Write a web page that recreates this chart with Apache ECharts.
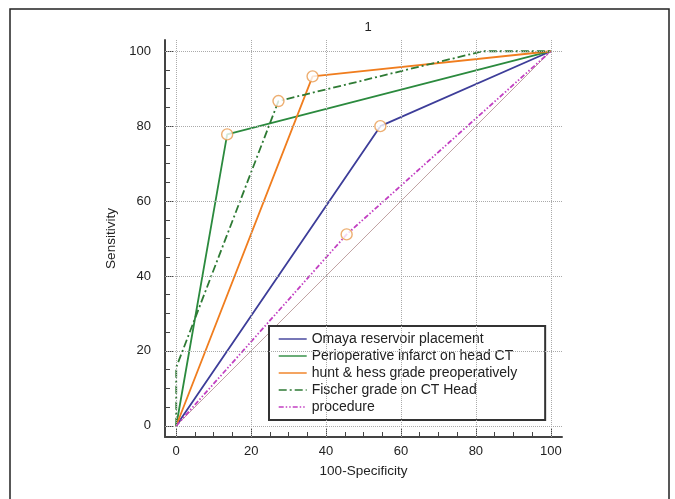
<!DOCTYPE html>
<html>
<head>
<meta charset="utf-8">
<script src="https://cdn.jsdelivr.net/npm/echarts@6/dist/echarts.min.js"></script>
<style>
  html, body { margin: 0; padding: 0; background: #fff; }
  #chart { width: 675px; height: 499px; }
</style>
</head>
<body>
<div id="chart"></div>
<script>
// ROC curves (x = 100-Specificity, y = Sensitivity)
const seriesNames = [
  'Omaya reservoir placement',
  'Perioperative infarct on head CT',
  'hunt & hess grade preoperatively',
  'Fischer grade on CT Head',
  'procedure'
]
const omayaX = [0, 54.5, 100]
const omayaY = [0, 80, 100]
const infarctX = [0, 13.6, 100]
const infarctY = [0, 77.8, 100]
const huntX = [0, 36.4, 100]
const huntY = [0, 93.3, 100]
const fischerX = [0, 0, 27.3, 81.8, 100]
const fischerY = [0, 15.6, 86.7, 100, 100]
const procX = [0, 45.5, 100]
const procY = [0, 51.1, 100]
// criterion point (index into each curve) shown with a circle
const markerIdx = [1, 1, 1, 2, 1]
// diagonal reference line
const diagX = [0, 100]
const diagY = [0, 100]

const majorTicks = [0, 20, 40, 60, 80, 100]
const minorTicks = [5, 10, 15, 25, 30, 35, 45, 50, 55, 65, 70, 75, 85, 90, 95]

const font = 'Liberation Sans, Arial, sans-serif'
const colors = ['#3d3d99', '#2b8a3e', '#f07d1e', '#2e7a34', '#c23fc2']
const dashes = ['solid', 'solid', 'solid', [8, 3, 2, 3], [5, 2, 1.5, 2, 1.5, 2]]

const curvesX = [omayaX, infarctX, huntX, fischerX, procX]
const curvesY = [omayaY, infarctY, huntY, fischerY, procY]

const zip = (xs, ys) => xs.map((x, i) => [x, ys[i]])

const chart = echarts.init(document.getElementById('chart'))

const axisBase = {
  type: 'value',
  min: -3,
  max: 103,
  splitLine: { show: false }
}

const series = []

// dotted grid lines
series.push({
  type: 'line',
  data: [],
  silent: true,
  markLine: {
    silent: true,
    symbol: 'none',
    label: { show: false },
    lineStyle: { color: '#aaa', type: [1, 1], width: 1 },
    data: majorTicks.map(v => ({ xAxis: v })).concat(majorTicks.map(v => ({ yAxis: v })))
  }
})

// diagonal
series.push({
  type: 'line',
  data: zip(diagX, diagY),
  symbol: 'none',
  silent: true,
  lineStyle: { color: '#b08c8c', width: 0.8 },
  z: 2
})

seriesNames.forEach((name, i) => {
  series.push({
    name: name,
    type: 'line',
    data: zip(curvesX[i], curvesY[i]),
    symbol: 'none',
    color: colors[i],
    lineStyle: { color: colors[i], width: 1.8, type: dashes[i] },
    z: 3
  })
})

// criterion markers
series.push({
  type: 'scatter',
  data: seriesNames.map((_, i) => [curvesX[i][markerIdx[i]], curvesY[i][markerIdx[i]]]),
  symbol: 'circle',
  symbolSize: 11,
  itemStyle: { color: '#fff', borderColor: '#e99a4e', borderWidth: 1.4 },
  silent: true,
  z: 5
})

const option = {
  animation: false,
  backgroundColor: '#fff',
  title: {
    text: '1',
    left: 363,
    top: 16,
    textAlign: 'center',
    textStyle: { fontFamily: font, fontSize: 13, fontWeight: 'normal', color: '#222' }
  },
  grid: { left: 165, right: 113, top: 40, bottom: 62 },
  legend: {
    data: seriesNames,
    orient: 'vertical',
    left: 269,
    top: 326,
    padding: [6, 28, 6, 9],
    itemWidth: 28,
    itemHeight: 14,
    itemGap: 3,
    backgroundColor: '#fff',
    borderColor: '#333',
    borderWidth: 2,
    borderRadius: 0,
    itemStyle: { opacity: 0 },
    lineStyle: { width: 1.4 },
    textStyle: { fontFamily: font, fontSize: 14, color: '#222' }
  },
  xAxis: [
    Object.assign({}, axisBase, {
      name: '100-Specificity',
      nameLocation: 'middle',
      nameGap: 27,
      nameTextStyle: { fontFamily: font, fontSize: 13.5, color: '#222' },
      axisLine: { show: true, onZero: false, lineStyle: { color: '#444', width: 2 } },
      axisTick: { show: true, inside: true, length: 9, customValues: majorTicks, lineStyle: { color: '#444', width: 1 } },
      axisLabel: { customValues: majorTicks, margin: 8, fontFamily: font, fontSize: 13, color: '#222' }
    }),
    Object.assign({}, axisBase, {
      position: 'bottom',
      axisLine: { show: false, onZero: false },
      axisTick: { show: true, inside: true, length: 5, customValues: minorTicks, lineStyle: { color: '#444', width: 1 } },
      axisLabel: { show: false }
    })
  ],
  yAxis: [
    Object.assign({}, axisBase, {
      name: 'Sensitivity',
      nameLocation: 'middle',
      nameGap: 45,
      nameTextStyle: { fontFamily: font, fontSize: 13.5, color: '#222' },
      axisLine: { show: true, onZero: false, lineStyle: { color: '#444', width: 2 } },
      axisTick: { show: true, inside: true, length: 9, customValues: majorTicks, lineStyle: { color: '#444', width: 1 } },
      axisLabel: { customValues: majorTicks, margin: 14, fontFamily: font, fontSize: 13, color: '#222' }
    }),
    Object.assign({}, axisBase, {
      position: 'left',
      axisLine: { show: false, onZero: false },
      axisTick: { show: true, inside: true, length: 5, customValues: minorTicks, lineStyle: { color: '#444', width: 1 } },
      axisLabel: { show: false }
    })
  ],
  graphic: [{
    type: 'rect',
    shape: { x: 10, y: 9, width: 659, height: 520 },
    style: { fill: 'none', stroke: '#222', lineWidth: 1.5 },
    silent: true,
    z: 100
  }],
  series: series
}

chart.setOption(option)
</script>
</body>
</html>
